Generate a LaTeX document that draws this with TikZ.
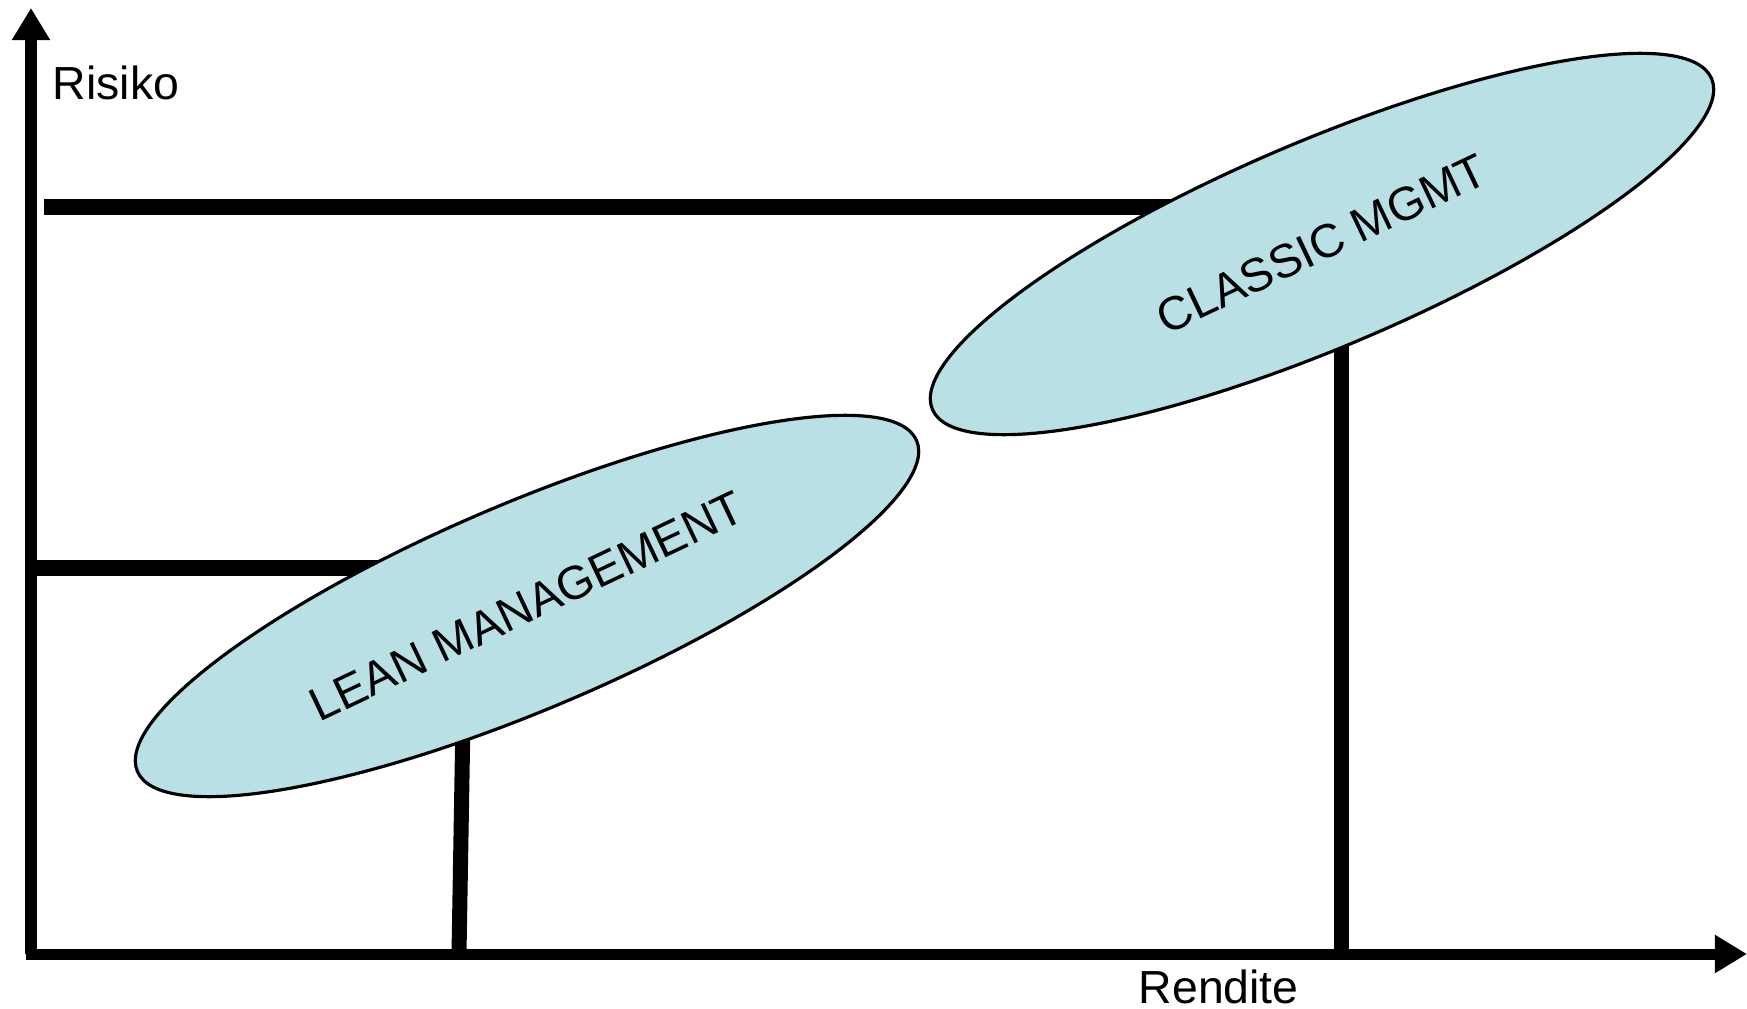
\documentclass[tikz,border=0pt]{standalone}
\usepackage{fontspec}
\setmainfont{Liberation Sans}
\usetikzlibrary{shapes.geometric,arrows.meta}
\definecolor{blobfill}{RGB}{185,224,228}

\begin{document}
\begin{tikzpicture}[x=0.01cm,y=-0.01cm,
	axis/.style={line width=0.11cm,-{Triangle[length=0.32cm,width=0.36cm]}},
	level/.style={line width=0.15cm},
	blob/.style={ellipse,draw,line width=0.9pt,fill=blobfill,minimum width=8.46cm,minimum height=2.06cm,inner sep=0pt,rotate=23},
	blob label/.style={font=\fontsize{13.4pt}{16pt}\selectfont,rotate=25.4},
	axis label/.style={font=\fontsize{13.2pt}{16pt}\selectfont,anchor=base west,inner sep=0pt}]

	\useasboundingbox (0,0) rectangle (1747,1009);

	\coordinate (origin) at (31,954);
	\coordinate (ytip) at (31,8);
	\coordinate (xstart) at (26,954);
	\coordinate (xtip) at (1747,954);

	\coordinate (hi) at (44,207);
	\coordinate (hi end) at (1320,207);
	\coordinate (lo) at (37,568);
	\coordinate (lo end) at (520,568);
	\coordinate (leanfoot) at (459,954);
	\coordinate (leantop) at (464,660);
	\coordinate (classicfoot) at (1341,954);
	\coordinate (classictop) at (1341,300);

	% levels
	\draw[level] (hi) -- (hi end);
	\draw[level] (lo) -- (lo end);
	\draw[level] (leanfoot) -- (leantop);
	\draw[level] (classicfoot) -- (classictop);

	% axes
	\draw[axis] (origin) -- (ytip);
	\draw[axis] (xstart) -- (xtip);
	\node[axis label] (risiko) at (52,99) {Risiko};
	\node[axis label] (rendite) at (1138,1003) {Rendite};

	\node[blob] (lean) at (527,606) {};
	\node[blob] (classic) at (1322,244) {};
	\node[blob label] (lean label) at (lean.center) {LEAN MANAGEMENT};
	\node[blob label] (classic label) at (classic.center) {CLASSIC MGMT};

\end{tikzpicture}
\end{document}
